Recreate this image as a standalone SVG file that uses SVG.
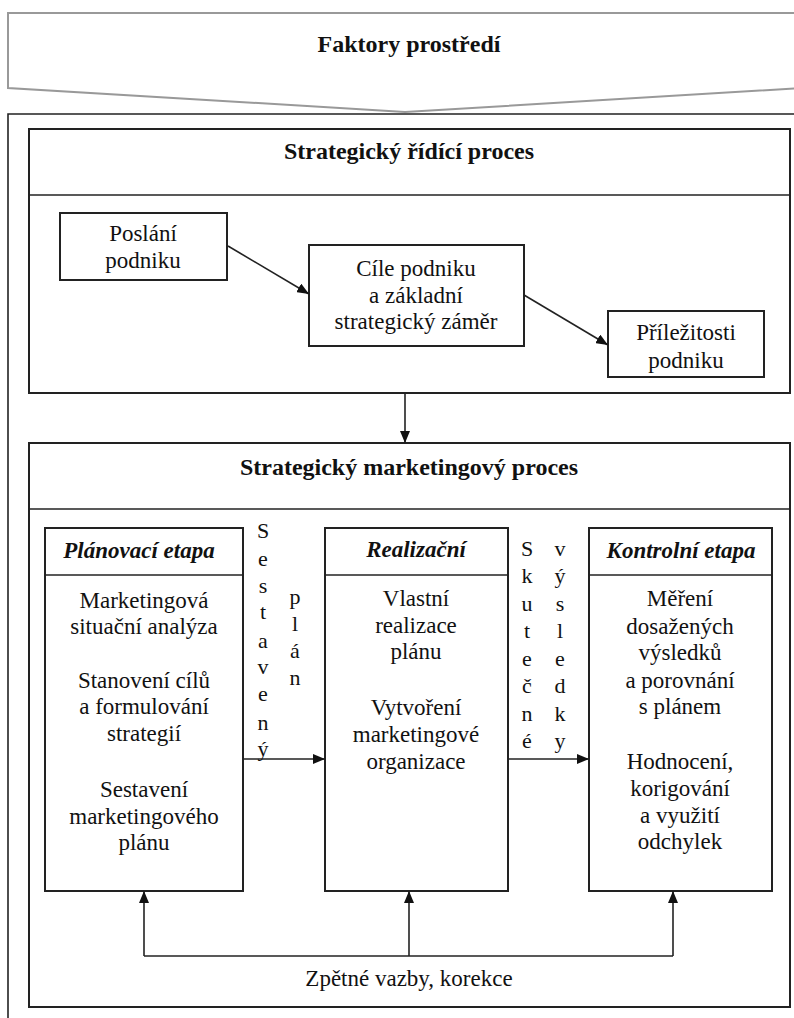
<svg xmlns="http://www.w3.org/2000/svg" width="794" height="1018" viewBox="0 0 794 1018" font-family="Times New Roman, Liberation Serif, Times, serif">
<style>
text{font-family:"Times New Roman","Liberation Serif",Times,serif;fill:#111;text-anchor:middle}
.b{font-weight:bold;font-size:24px}
.bi{font-weight:bold;font-style:italic;font-size:23px}
.t{font-size:23px}
.v{font-size:22px}
.box{fill:#fff;stroke:#222;stroke-width:2}
.ln{fill:none;stroke:#222;stroke-width:1.6}
.con{fill:none;stroke:#222;stroke-width:1.6}
</style>
<defs>
<marker id="ah" viewBox="0 0 12 10" refX="12" refY="5" markerWidth="12" markerHeight="10" markerUnits="userSpaceOnUse" orient="auto">
<path d="M0,0 L12,5 L0,10 Z" fill="#111"/>
</marker>
</defs>
<rect width="794" height="1018" fill="#fff"/>
<g id="faktory">
<path d="M8,88 L8,13 L802,13 L802,88 L405,112 Z" fill="#fff" stroke="#999" stroke-width="2"/>
<text class="b" x="409" y="52">Faktory prostředí</text>
</g>
<g id="outer">
<path d="M8,1020 L8,114 L800,114" class="ln" stroke-width="2"/>
</g>
<g id="strategicky-ridici">
<rect class="box" x="29" y="129" width="761" height="264"/>
<line class="ln" x1="29" y1="195" x2="790" y2="195"/>
<text class="b" x="409" y="159">Strategický řídící proces</text>
</g>
<g id="poslani">
<rect class="box" x="60" y="213" width="167" height="67"/>
<text class="t" x="143" y="241">Poslání</text>
<text class="t" x="143" y="268">podniku</text>
</g>
<g id="cile">
<rect class="box" x="309" y="245" width="215" height="101"/>
<text class="t" x="416" y="276">Cíle podniku</text>
<text class="t" x="416" y="303">a základní</text>
<text class="t" x="416" y="329">strategický záměr</text>
</g>
<g id="prilezitosti">
<rect class="box" x="608" y="311" width="156" height="66"/>
<text class="t" x="686" y="340">Příležitosti</text>
<text class="t" x="686" y="368">podniku</text>
</g>
<g id="strategicky-marketingovy">
<rect class="box" x="29" y="443" width="761" height="564"/>
<line class="ln" x1="29" y1="509" x2="790" y2="509"/>
<text class="b" x="409" y="475">Strategický marketingový proces</text>
</g>
<g id="planovaci">
<rect class="box" x="45" y="528" width="198" height="363"/>
<line class="ln" x1="45" y1="575" x2="243" y2="575"/>
<text class="bi" x="139" y="558">Plánovací etapa</text>
<text class="t" x="144" y="608">Marketingová</text>
<text class="t" x="144" y="634">situační analýza</text>
<text class="t" x="144" y="688">Stanovení cílů</text>
<text class="t" x="144" y="714">a formulování</text>
<text class="t" x="144" y="741">strategií</text>
<text class="t" x="144" y="797">Sestavení</text>
<text class="t" x="144" y="824">marketingového</text>
<text class="t" x="144" y="850">plánu</text>
</g>
<g id="realizacni">
<rect class="box" x="325" y="528" width="183" height="363"/>
<line class="ln" x1="325" y1="575" x2="508" y2="575"/>
<text class="bi" x="416" y="557">Realizační</text>
<text class="t" x="416" y="606">Vlastní</text>
<text class="t" x="416" y="633">realizace</text>
<text class="t" x="416" y="659">plánu</text>
<text class="t" x="416" y="715">Vytvoření</text>
<text class="t" x="416" y="742">marketingové</text>
<text class="t" x="416" y="769">organizace</text>
</g>
<g id="kontrolni">
<rect class="box" x="589" y="528" width="183" height="363"/>
<line class="ln" x1="589" y1="575" x2="772" y2="575"/>
<text class="bi" x="681" y="558">Kontrolní etapa</text>
<text class="t" x="680" y="606">Měření</text>
<text class="t" x="680" y="634">dosažených</text>
<text class="t" x="680" y="660">výsledků</text>
<text class="t" x="680" y="688">a porovnání</text>
<text class="t" x="680" y="714">s plánem</text>
<text class="t" x="680" y="769">Hodnocení,</text>
<text class="t" x="680" y="796">korigování</text>
<text class="t" x="680" y="823">a využití</text>
<text class="t" x="680" y="849">odchylek</text>
</g>
<g id="connectors">
<line class="con" x1="228" y1="246" x2="309" y2="294" marker-end="url(#ah)"/>
<line class="con" x1="524" y1="295" x2="608" y2="345" marker-end="url(#ah)"/>
<line class="con" x1="405" y1="393" x2="405" y2="443" marker-end="url(#ah)"/>
<line class="con" x1="243" y1="759" x2="325" y2="759" marker-end="url(#ah)"/>
<line class="con" x1="508" y1="759" x2="589" y2="759" marker-end="url(#ah)"/>
<polyline class="con" points="144,956 673,956"/>
<line class="con" x1="144" y1="956" x2="144" y2="891" marker-end="url(#ah)"/>
<line class="con" x1="409" y1="956" x2="409" y2="891" marker-end="url(#ah)"/>
<line class="con" x1="673" y1="956" x2="673" y2="891" marker-end="url(#ah)"/>
</g>
<g id="label-sestaveny-plan">
<text class="v" x="263" y="538">S</text>
<text class="v" x="263" y="566">e</text>
<text class="v" x="263" y="593">s</text>
<text class="v" x="263" y="619">t</text>
<text class="v" x="263" y="648">a</text>
<text class="v" x="263" y="674">v</text>
<text class="v" x="263" y="701">e</text>
<text class="v" x="263" y="730">n</text>
<text class="v" x="263" y="756">ý</text>
<text class="v" x="295" y="604">p</text>
<text class="v" x="295" y="631">l</text>
<text class="v" x="295" y="658">á</text>
<text class="v" x="295" y="685">n</text>
</g>
<g id="label-skutecne-vysledky">
<text class="v" x="527" y="556">S</text>
<text class="v" x="527" y="583">k</text>
<text class="v" x="527" y="611">u</text>
<text class="v" x="527" y="638">t</text>
<text class="v" x="527" y="666">e</text>
<text class="v" x="527" y="693">č</text>
<text class="v" x="527" y="721">n</text>
<text class="v" x="527" y="748">é</text>
<text class="v" x="560" y="556">v</text>
<text class="v" x="560" y="583">ý</text>
<text class="v" x="560" y="611">s</text>
<text class="v" x="560" y="638">l</text>
<text class="v" x="560" y="666">e</text>
<text class="v" x="560" y="693">d</text>
<text class="v" x="560" y="721">k</text>
<text class="v" x="560" y="748">y</text>
</g>
<g id="label-zpetne">
<text class="t" x="409" y="986">Zpětné vazby, korekce</text>
</g>
</svg>
